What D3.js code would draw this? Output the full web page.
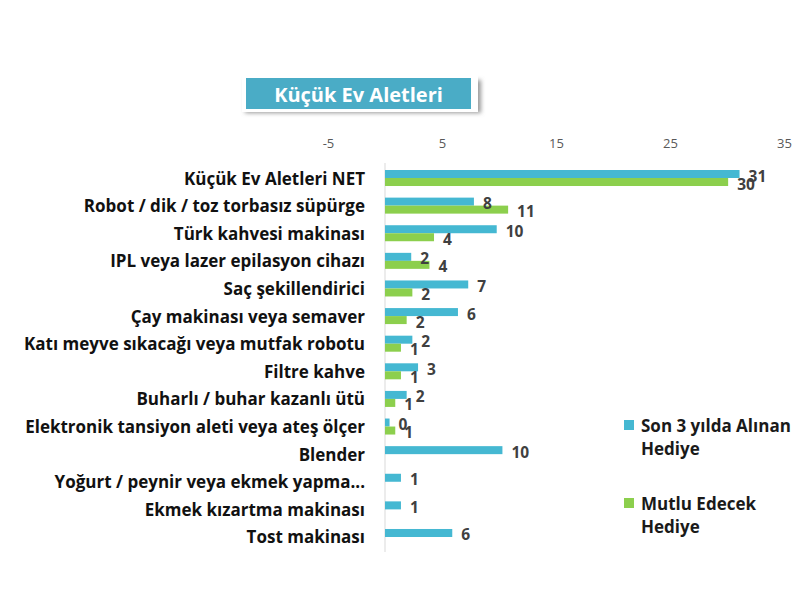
<!DOCTYPE html>
<html><head><meta charset="utf-8">
<script src="https://cdn.jsdelivr.net/npm/d3@7"></script>
<style>body{margin:0;background:#fff}svg{display:block}</style>
</head><body>
<svg id="chart" width="800" height="600"></svg>
<script>
const title = "Küçük Ev Aletleri";
const categories = ["Küçük Ev Aletleri NET","Robot / dik / toz torbasız süpürge","Türk kahvesi makinası","IPL veya lazer epilasyon cihazı","Saç şekillendirici","Çay makinası veya semaver","Katı meyve sıkacağı veya mutfak robotu","Filtre kahve","Buharlı / buhar kazanlı ütü","Elektronik tansiyon aleti veya ateş ölçer","Blender","Yoğurt / peynir veya ekmek yapma...","Ekmek kızartma makinası","Tost makinası"];
const seriesNames = ["Son 3 yılda Alınan Hediye","Mutlu Edecek Hediye"];
const seriesColors = ["#45b8d2","#8ccf4d"];
const boughtValues = [31.1, 7.8, 9.8, 2.3, 7.3, 6.4, 2.4, 2.9, 1.9, 0.4, 10.3, 1.4, 1.4, 5.9];
const happyValues  = [30.1, 10.8, 4.3, 3.9, 2.4, 1.9, 1.4, 1.4, 0.9, 0.9, null, null, null, null];
const tickValues = [-5, 5, 15, 25, 35];

const svg = d3.select("#chart");
const x = d3.scaleLinear().domain([-5, 35]).range([328, 784]);
const y = d3.scaleBand().domain(categories).range([164.2, 550.8]).paddingInner(0);
const ySub = d3.scaleBand().domain(seriesNames).range([0, y.bandwidth()]).paddingInner(0).paddingOuter(0.725);

// title box
const defs = svg.append("defs");
const f = defs.append("filter").attr("id","sh").attr("x","-10%").attr("y","-30%").attr("width","130%").attr("height","180%");
f.append("feGaussianBlur").attr("stdDeviation", 2);
const tb = svg.append("g");
tb.append("rect").attr("x",245).attr("y",80).attr("width",236).attr("height",33).attr("fill","#9a9a9a").attr("filter","url(#sh)");
tb.append("rect").attr("x",242).attr("y",75).attr("width",236).attr("height",37).attr("fill","#fff");
tb.append("rect").attr("x",246).attr("y",78).attr("width",225).attr("height",31).attr("fill","#4aacc6");
tb.append("text").attr("x",358.5).attr("y",94).attr("text-anchor","middle").attr("dominant-baseline","central")
  .attr("fill","#fff").attr("font-family","'Open Sans', sans-serif").attr("font-weight","bold").attr("font-size",20).text(title);

// axis
const ax = svg.append("g").attr("transform","translate(0,143)")
  .call(d3.axisTop(x).tickValues(tickValues).tickFormat(d=>String(d)).tickSize(0).tickPadding(0));
ax.select(".domain").remove();
ax.selectAll("text").attr("fill","#595959").attr("font-family","'Open Sans', sans-serif").attr("font-size",13).attr("dominant-baseline","central").attr("dy",0);

svg.append("line").attr("x1",x(0)).attr("x2",x(0)).attr("y1",163).attr("y2",552).attr("stroke","#d9d9d9").attr("stroke-width",1);

// category labels
svg.append("g").selectAll("text").data(categories).join("text")
  .attr("x",365).attr("y",d=>y(d)+y.bandwidth()/2).attr("text-anchor","end").attr("dominant-baseline","central")
  .attr("fill","#111").attr("font-family","'Open Sans', sans-serif").attr("font-weight","bold").attr("font-size",17)
  .text(d=>d);

const rows = [];
categories.forEach((c,i)=>{
  rows.push({cat:c, s:seriesNames[0], v:boughtValues[i], color:seriesColors[0]});
  rows.push({cat:c, s:seriesNames[1], v:happyValues[i], color:seriesColors[1]});
});
const valid = rows.filter(r=>r.v!==null);

svg.append("g").selectAll("rect").data(valid).join("rect")
  .attr("x",x(0)).attr("y",d=>y(d.cat)+ySub(d.s)).attr("width",d=>x(d.v)-x(0)).attr("height",ySub.bandwidth())
  .attr("fill",d=>d.color);

const fmt = d3.format(".0f");
svg.append("g").selectAll("text").data(valid).join("text")
  .attr("x",d=>x(d.v)+9).attr("y",d=>y(d.cat)+ySub(d.s)+ySub.bandwidth()/2+1.5).attr("dominant-baseline","central")
  .attr("fill","#404040").attr("font-family","'Open Sans', sans-serif").attr("font-weight","bold").attr("font-size",15.5)
  .text(d=>fmt(d.v));

// legend
const legendLines = [["Son 3 yılda Alınan","Hediye"],["Mutlu Edecek","Hediye"]];
const lg = svg.append("g");
[0,1].forEach(i=>{
  const top = i===0 ? 420 : 498;
  lg.append("rect").attr("x",624).attr("y",top).attr("width",10).attr("height",10).attr("fill",seriesColors[i]);
  legendLines[i].forEach((t,j)=>{
    lg.append("text").attr("x",641).attr("y",top+12+j*23).attr("fill","#1a1a1a")
      .attr("font-family","'Open Sans', sans-serif").attr("font-weight","bold").attr("font-size",17).text(t);
  });
});
</script>
</body></html>
